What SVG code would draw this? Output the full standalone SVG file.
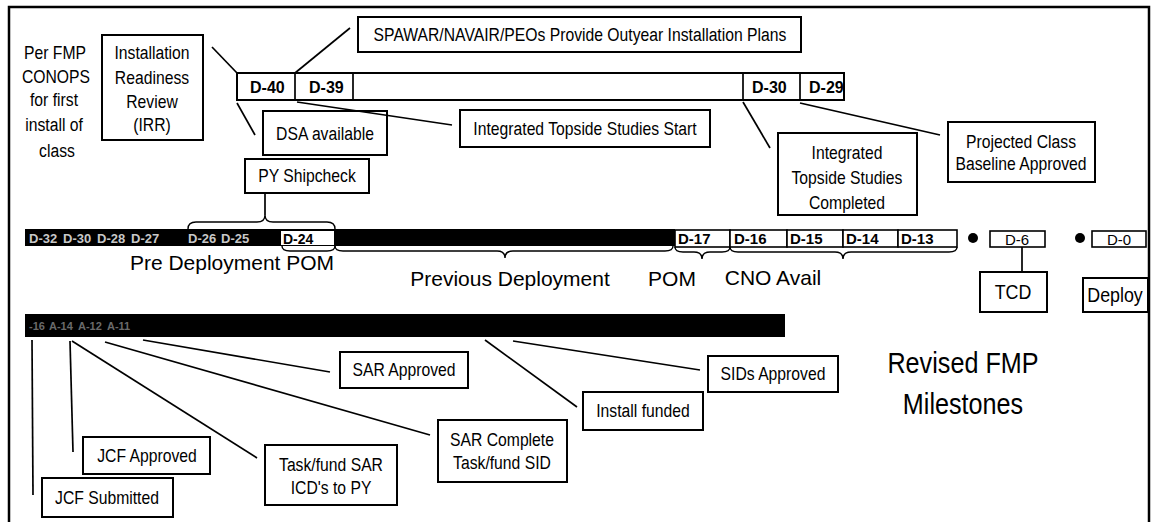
<svg xmlns="http://www.w3.org/2000/svg" width="1152" height="522" viewBox="0 0 1152 522">
<style>
.box{fill:#fff;stroke:#000;stroke-width:2}
.cell{fill:#fff;stroke:#000;stroke-width:1.6}
.ln{stroke:#000;stroke-width:1.7;fill:none}
.br{stroke:#000;stroke-width:1.4;fill:none}
.t{font-family:"Liberation Sans",Arial,sans-serif;font-size:18.5px;text-anchor:middle;fill:#000;transform-box:fill-box;transform-origin:center;transform:scaleX(0.85)}
.s{font-family:"Liberation Sans",Arial,sans-serif;font-size:15px;text-anchor:middle;fill:#000}
.c{font-family:"Liberation Sans",Arial,sans-serif;font-size:15px;font-weight:bold;fill:#000}
.w{font-family:"Liberation Sans",Arial,sans-serif;font-size:13px;font-weight:bold;fill:#c8c8c8}
.g{font-family:"Liberation Sans",Arial,sans-serif;font-size:11px;font-weight:bold;fill:#6a6a6a}
.L{font-family:"Liberation Sans",Arial,sans-serif;font-size:21px;text-anchor:middle;fill:#000}
.big{font-family:"Liberation Sans",Arial,sans-serif;font-size:30px;text-anchor:middle;fill:#000;transform-box:fill-box;transform-origin:center;transform:scaleX(0.84)}
</style>
<rect x="9" y="7" width="1140" height="540" fill="none" stroke="#000" stroke-width="2.5"/>

<g id="per-fmp">
<text class="t" x="55" y="59">Per FMP</text>
<text class="t" x="56" y="83">CONOPS</text>
<text class="t" x="54" y="106">for first</text>
<text class="t" x="54" y="131">install of</text>
<text class="t" x="57" y="157">class</text>
</g>

<g id="irr">
<rect class="box" x="102" y="35" width="101" height="105"/>
<text class="t" x="152" y="59">Installation</text>
<text class="t" x="152" y="84">Readiness</text>
<text class="t" x="152" y="108">Review</text>
<text class="t" x="152" y="131">(IRR)</text>
</g>

<g id="top-bar">
<rect class="box" x="237" y="73" width="607" height="27"/>
<line class="ln" x1="295" y1="73" x2="295" y2="100"/>
<line class="ln" x1="353" y1="73" x2="353" y2="100"/>
<line class="ln" x1="743" y1="73" x2="743" y2="100"/>
<line class="ln" x1="800" y1="73" x2="800" y2="100"/>
<text class="c" style="font-size:16px" x="250" y="93">D-40</text>
<text class="c" style="font-size:16px" x="309" y="93">D-39</text>
<text class="c" style="font-size:16px" x="752" y="93">D-30</text>
<text class="c" style="font-size:16px" x="809" y="93">D-29</text>
</g>

<g id="spawar">
<rect class="box" x="358" y="17" width="443" height="35"/>
<text class="t" x="580" y="41">SPAWAR/NAVAIR/PEOs Provide Outyear Installation Plans</text>
</g>
<g id="dsa">
<rect class="box" x="263" y="111" width="124" height="44"/>
<text class="t" x="325" y="140">DSA available</text>
</g>
<g id="py-shipcheck">
<rect class="box" x="245" y="159" width="124" height="34"/>
<text class="t" x="307" y="182">PY Shipcheck</text>
</g>
<g id="its-start">
<rect class="box" x="460" y="110" width="250" height="37"/>
<text class="t" x="585" y="135">Integrated Topside Studies Start</text>
</g>
<g id="its-completed">
<rect class="box" x="778" y="133" width="139" height="82"/>
<text class="t" x="847" y="159">Integrated</text>
<text class="t" x="847" y="184">Topside Studies</text>
<text class="t" x="847" y="209">Completed</text>
</g>
<g id="projected">
<rect class="box" x="948" y="122" width="147" height="60"/>
<text class="t" x="1021" y="148">Projected Class</text>
<text class="t" x="1021" y="170">Baseline Approved</text>
</g>

<g id="main-timeline">
<rect x="25" y="229" width="650" height="17" fill="#000"/>
<text class="w" x="29" y="243">D-32</text>
<text class="w" x="63" y="243">D-30</text>
<text class="w" x="97" y="243">D-28</text>
<text class="w" x="131" y="243">D-27</text>
<text class="w" x="188" y="243">D-26</text>
<text class="w" x="221" y="243">D-25</text>
<rect x="281" y="231" width="53" height="14" fill="#fff"/>
<text class="c" style="font-size:14px" x="283" y="244">D-24</text>
<rect class="cell" x="675" y="230" width="55" height="17"/>
<rect class="cell" x="730" y="230" width="57" height="17"/>
<rect class="cell" x="787" y="230" width="56" height="17"/>
<rect class="cell" x="843" y="230" width="55" height="17"/>
<rect class="cell" x="898" y="230" width="59" height="17"/>
<text class="c" x="678" y="244">D-17</text>
<text class="c" x="734" y="244">D-16</text>
<text class="c" x="790" y="244">D-15</text>
<text class="c" x="846" y="244">D-14</text>
<text class="c" x="901" y="244">D-13</text>
<circle cx="973" cy="238" r="5" fill="#000"/>
<circle cx="1080" cy="238" r="5" fill="#000"/>
</g>

<g id="d6">
<rect class="cell" x="990" y="231" width="55" height="16"/>
<text class="s" x="1017" y="245">D-6</text>
</g>
<g id="tcd">
<rect class="box" x="980" y="272" width="67" height="40"/>
<text class="t" style="font-size:21px" x="1013" y="299">TCD</text>
</g>
<g id="d0">
<rect class="cell" x="1092" y="231" width="54" height="16"/>
<text class="s" x="1119" y="245">D-0</text>
</g>
<g id="deploy">
<rect class="box" x="1083" y="278" width="65" height="34"/>
<text class="t" style="font-size:21px" x="1115" y="302">Deploy</text>
</g>

<g id="phase-labels">
<text class="L" x="232" y="270">Pre Deployment POM</text>
<text class="L" x="510" y="286">Previous Deployment</text>
<text class="L" x="672" y="286">POM</text>
<text class="L" x="773" y="285">CNO Avail</text>
</g>

<g id="bottom-bar">
<rect x="25" y="314" width="760" height="23" fill="#000"/>
<text class="g" x="29" y="330">-16</text>
<text class="g" x="49" y="330">A-14</text>
<text class="g" x="78" y="330">A-12</text>
<text class="g" x="107" y="330">A-11</text>
</g>

<g id="jcf-submitted">
<rect class="box" x="42" y="478" width="131" height="39"/>
<text class="t" x="107" y="504">JCF Submitted</text>
</g>
<g id="jcf-approved">
<rect class="box" x="83" y="437" width="127" height="37"/>
<text class="t" x="147" y="462">JCF Approved</text>
</g>
<g id="task-fund-sar">
<rect class="box" x="265" y="445" width="132" height="60"/>
<text class="t" x="331" y="471">Task/fund SAR</text>
<text class="t" x="331" y="494">ICD's to PY</text>
</g>
<g id="sar-complete">
<rect class="box" x="438" y="420" width="129" height="62"/>
<text class="t" x="502" y="446">SAR Complete</text>
<text class="t" x="502" y="469">Task/fund SID</text>
</g>
<g id="sar-approved">
<rect class="box" x="340" y="352" width="128" height="36"/>
<text class="t" x="404" y="376">SAR Approved</text>
</g>
<g id="install-funded">
<rect class="box" x="583" y="392" width="120" height="38"/>
<text class="t" x="643" y="417">Install funded</text>
</g>
<g id="sids-approved">
<rect class="box" x="708" y="356" width="130" height="36"/>
<text class="t" x="773" y="380">SIDs Approved</text>
</g>

<g id="title">
<text class="big" x="963" y="373">Revised FMP</text>
<text class="big" x="963" y="414">Milestones</text>
</g>

<g id="connectors">
<line class="ln" x1="212" y1="47" x2="237" y2="73"/>
<line class="ln" x1="295" y1="73" x2="350" y2="28"/>
<line class="ln" x1="237" y1="103" x2="255" y2="135"/>
<line class="ln" x1="297" y1="102" x2="452" y2="125"/>
<line class="ln" x1="743" y1="102" x2="770" y2="148"/>
<line class="ln" x1="800" y1="103" x2="940" y2="135"/>
<line class="ln" x1="265" y1="193" x2="265" y2="215"/>
<path class="br" d="M188,229 Q188,222 196,222 L257,222 Q265,222 265,215 Q265,222 273,222 L327,222 Q335,222 335,229"/>
<path class="br" d="M282,246 Q282,251 290,251 L327,251 Q335,251 335,246"/>
<path class="br" d="M335,246 Q335,251 343,251 L497,251 Q505,251 505,258 Q505,251 513,251 L665,251 Q673,251 673,246"/>
<path class="br" d="M675,247 Q675,252 683,252 L694,252 Q702,252 702,259 Q702,252 710,252 L722,252 Q730,252 730,247"/>
<path class="br" d="M730,247 Q730,252 738,252 L835,252 Q843,252 843,259 Q843,252 851,252 L949,252 Q957,252 957,247"/>
<line class="ln" x1="1022" y1="247" x2="1022" y2="272"/>
<line class="ln" x1="32" y1="340" x2="33" y2="495"/>
<line class="ln" x1="70" y1="341" x2="73" y2="452"/>
<line class="ln" x1="72" y1="341" x2="257" y2="458"/>
<line class="ln" x1="105" y1="342" x2="430" y2="435"/>
<line class="ln" x1="143" y1="340" x2="330" y2="372"/>
<line class="ln" x1="485" y1="340" x2="577" y2="407"/>
<line class="ln" x1="513" y1="341" x2="700" y2="370"/>
</g>
</svg>
